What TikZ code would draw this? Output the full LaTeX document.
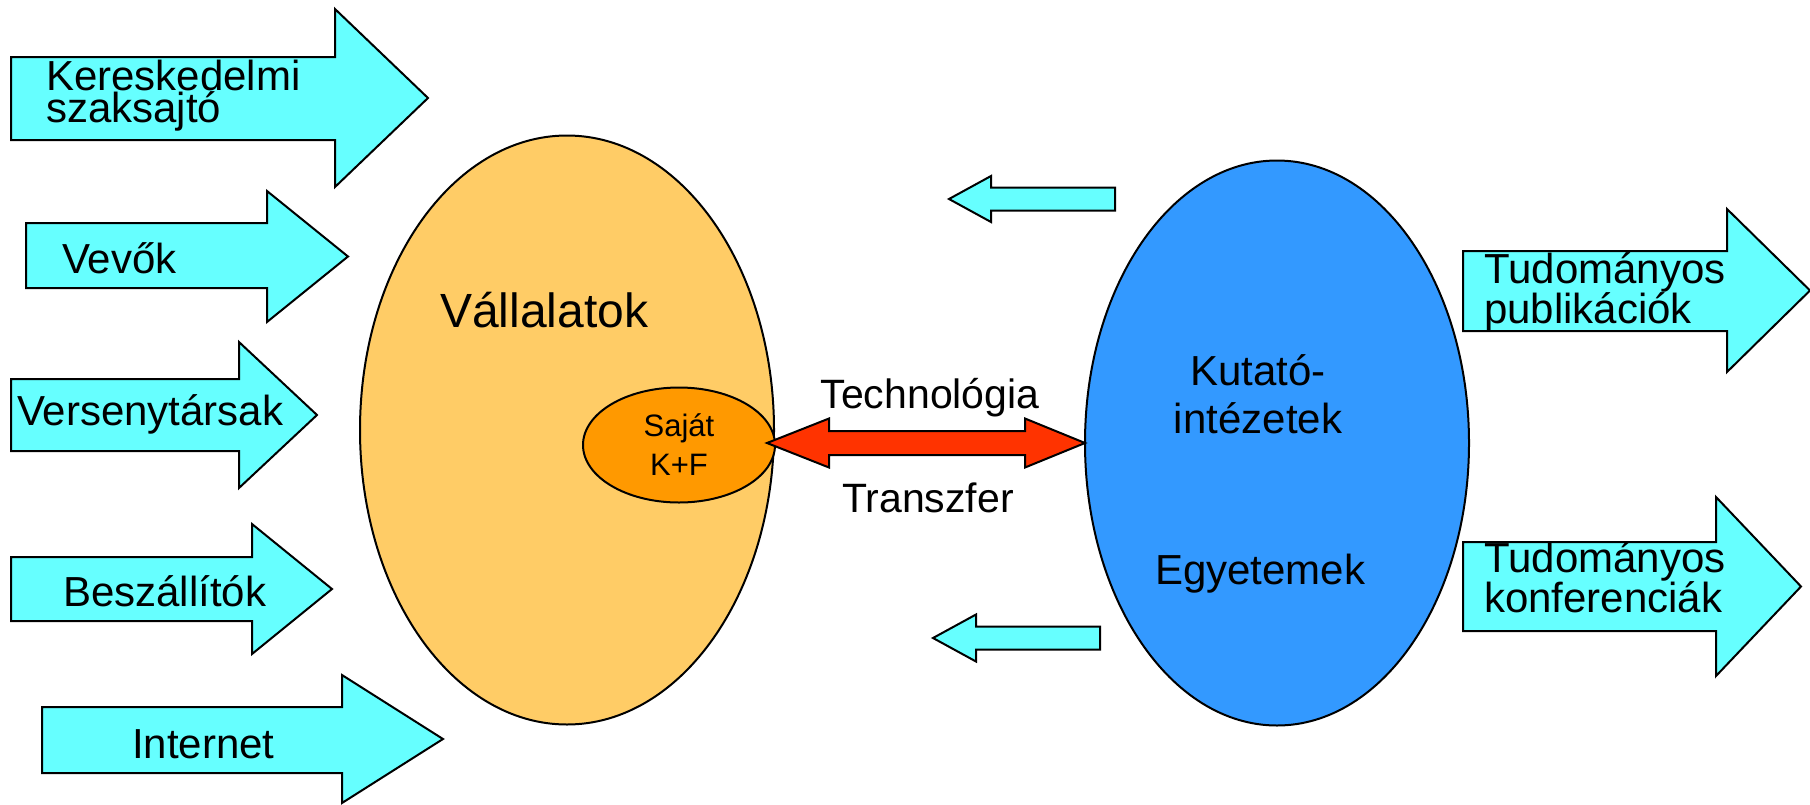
\documentclass[tikz,border=0pt]{standalone}
\usepackage{fontspec}
\setmainfont{Liberation Sans}
\usetikzlibrary{shapes.geometric, positioning}
\definecolor{flowcyan}{HTML}{66FFFF}
\definecolor{firmorange}{HTML}{FFCC66}
\definecolor{rdorange}{HTML}{FF9900}
\definecolor{instblue}{HTML}{3399FF}
\definecolor{transred}{HTML}{FF3300}
\tikzset{
  flow/.style={draw=black, fill=flowcyan, line width=2pt, line join=miter},
  blob/.style={ellipse, draw=black, line width=2pt, inner sep=0pt},
  lbl/.style={inner sep=0pt, font=\fontsize{42}{48}\selectfont},
}
% block arrow to the right: body left, body top, body bottom, head base, head top, head bottom, tip
\newcommand{\rarrow}[7]{%
  \draw[flow] (#1,#2) -- (#4,#2) -- (#4,#5) -- (#7,{(#5+#6)/2}) -- (#4,#6) -- (#4,#3) -- (#1,#3) -- cycle;}
% block arrow to the left: tip x, tip y, head base, head half, shaft half, tail
\newcommand{\larrow}[6]{%
  \draw[flow] (#1,#2) -- (#3,#2-#4) -- (#3,#2-#5) -- (#6,#2-#5) -- (#6,#2+#5) -- (#3,#2+#5) -- (#3,#2+#4) -- cycle;}

\begin{document}
\begin{tikzpicture}[x=1pt, y=-1pt]
  \useasboundingbox (0,0) rectangle (1810,804);

  % sources on the left
  \rarrow{11}{57}{140}{335}{9}{187}{428}
  \rarrow{26}{223}{288}{267}{191}{322}{348}
  \rarrow{11}{379}{451}{239}{342}{488}{317}
  \rarrow{11}{557}{621}{252}{524}{654}{332}
  \rarrow{42}{707}{773}{342}{675}{803}{443}
  \node[lbl, anchor=west, align=left, font=\fontsize{42}{32}\selectfont] (keresk) at (46,96) {Kereskedelmi\\szaksajtó};
  \node[lbl, anchor=base west] (vevok) at (62,273) {Vevők};
  \node[lbl, anchor=base west] (verseny) at (17,425) {Versenytársak};
  \node[lbl, anchor=base west] (beszall) at (63,606) {Beszállítók};
  \node[lbl, anchor=base west] (internet) at (132,758) {Internet};

  % the two sides
  \node[blob, fill=firmorange, minimum width=414pt, minimum height=589pt] (vall) at (567,430) {};
  \node[lbl, anchor=base west, font=\fontsize{48}{56}\selectfont] (valltxt) at (440,327) {Vállalatok};
  \node[blob, fill=rdorange, minimum width=192pt, minimum height=115pt, align=center,
        font=\fontsize{31}{39}\selectfont] (ksf) at (679,445) {Saját\\K+F};
  \node[blob, fill=instblue, minimum width=384pt, minimum height=565pt] (kut) at (1277,443) {};
  \node[lbl, align=center] (kuttxt) at (1258,394) {Kutató-\\intézetek};
  \node[lbl, anchor=base west] (egyet) at (1155,584) {Egyetemek};

  % technology transfer
  \coordinate (tl) at (767,443);
  \coordinate (tr) at (1085,443);
  \draw[flow, fill=transred] (tl) -- (829,418.5) -- (829,431) -- (1025,431) -- (1025,418.5) -- (tr)
    -- (1025,467.5) -- (1025,455) -- (829,455) -- (829,467.5) -- cycle;
  \node[lbl, anchor=base, font=\fontsize{41}{48}\selectfont] (techn) at (930,408) {Technológia};
  \node[lbl, anchor=base, font=\fontsize{41}{48}\selectfont] (transz) at (928,512) {Transzfer};

  % back flows
  \larrow{949}{199}{991}{23}{11.5}{1115}
  \larrow{933}{638}{976}{23.5}{11.5}{1100}

  % outputs on the right
  \rarrow{1463}{251}{331}{1727}{209}{372}{1810}
  \rarrow{1463}{542}{631}{1716}{497}{676}{1801}
  \node[lbl, anchor=west, align=left, font=\fontsize{42}{40}\selectfont] (tudpub) at (1484,292) {Tudományos\\publikációk};
  \node[lbl, anchor=west, align=left, font=\fontsize{42}{40}\selectfont] (tudkonf) at (1484,577) {Tudományos\\konferenciák};
\end{tikzpicture}
\end{document}
